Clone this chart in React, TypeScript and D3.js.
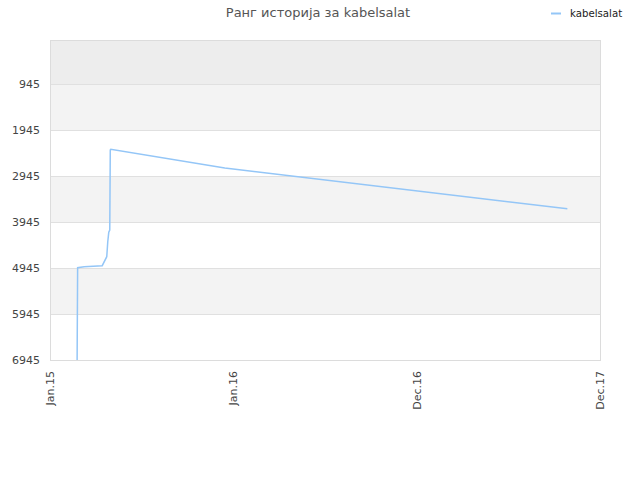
import * as d3 from "d3";
import { useRef, useEffect } from "react";

const dates = [
  "2015-02-24", "2015-02-25", "2015-03-10", "2015-04-15", "2015-04-24",
  "2015-04-26", "2015-04-28", "2015-04-30", "2015-05-01", "2015-05-02",
  "2015-12-15", "2017-10-27",
];
const ranks = [6945, 4938, 4917, 4895, 4699, 4373, 4169, 4119, 2380, 2365, 2771, 3656];
const xTickDates = ["2015-01-01", "2016-01-01", "2016-12-31", "2017-12-31"];
const yTicks = [945, 1945, 2945, 3945, 4945, 5945, 6945];
const seriesName = "kabelsalat";
const title = "Ранг историја за kabelsalat";

export default function App() {
  const ref = useRef<SVGSVGElement>(null);
  const width = 640;
  const height = 480;
  const m = { top: 40, right: 40, bottom: 120, left: 50 };

  useEffect(() => {
    const svg = d3.select(ref.current);
    svg.selectAll("*").remove();
    const parse = d3.timeParse("%Y-%m-%d");
    const data = dates.map((d, i) => ({ date: parse(d) as Date, rank: ranks[i] }));

    const x = d3
      .scaleTime()
      .domain([parse("2015-01-01") as Date, parse("2017-12-31") as Date])
      .range([m.left, width - m.right]);
    const y = d3.scaleLinear().domain([-12, 6945]).range([m.top, height - m.bottom]);

    const font = "'DejaVu Sans', sans-serif";

    // bands
    const bounds = [-12, ...yTicks];
    const bandFill = ["#ededed", "#f3f3f3", "#ffffff", "#f3f3f3", "#ffffff", "#f3f3f3", "#ffffff"];
    svg
      .append("g")
      .selectAll("rect")
      .data(bounds.slice(0, -1))
      .join("rect")
      .attr("x", m.left)
      .attr("width", width - m.left - m.right)
      .attr("y", (d) => y(d))
      .attr("height", (d, i) => y(bounds[i + 1]) - y(d))
      .attr("fill", (d, i) => bandFill[i]);

    // grid lines
    svg
      .append("g")
      .selectAll("line")
      .data(yTicks)
      .join("line")
      .attr("x1", m.left)
      .attr("x2", width - m.right)
      .attr("y1", (d) => y(d) + 0.5)
      .attr("y2", (d) => y(d) + 0.5)
      .attr("stroke", "#e0e0e0");

    // frame
    svg
      .append("rect")
      .attr("x", m.left + 0.5)
      .attr("y", m.top + 0.5)
      .attr("width", width - m.left - m.right)
      .attr("height", height - m.top - m.bottom)
      .attr("fill", "none")
      .attr("stroke", "#dcdcdc");

    // y labels
    svg
      .append("g")
      .selectAll("text")
      .data(yTicks)
      .join("text")
      .attr("x", m.left - 10)
      .attr("y", (d) => y(d) + 4)
      .attr("text-anchor", "end")
      .attr("font-family", font)
      .attr("font-size", 11)
      .attr("fill", "#444")
      .text((d) => d);

    // x labels
    const fmt = d3.timeFormat("%b.%y");
    svg
      .append("g")
      .selectAll("text")
      .data(xTickDates.map((d) => parse(d) as Date))
      .join("text")
      .attr("transform", (d) => `translate(${x(d) + 4},${height - m.bottom + 11}) rotate(-90)`)
      .attr("text-anchor", "end")
      .attr("font-family", font)
      .attr("font-size", 11)
      .attr("fill", "#444")
      .text((d) => fmt(d));

    // line
    svg
      .append("defs")
      .append("clipPath")
      .attr("id", "plot-clip")
      .append("rect")
      .attr("x", m.left)
      .attr("y", m.top)
      .attr("width", width - m.left - m.right)
      .attr("height", height - m.top - m.bottom);

    const line = d3
      .line<{ date: Date; rank: number }>()
      .x((d) => x(d.date))
      .y((d) => y(d.rank));

    svg
      .append("path")
      .datum(data)
      .attr("clip-path", "url(#plot-clip)")
      .attr("d", line)
      .attr("fill", "none")
      .attr("stroke", "#94c6f7")
      .attr("stroke-width", 1.5);

    // title
    svg
      .append("text")
      .attr("x", 318)
      .attr("y", 17)
      .attr("text-anchor", "middle")
      .attr("font-family", font)
      .attr("font-size", 13)
      .attr("fill", "#555")
      .text(title);

    // legend
    svg
      .append("line")
      .attr("x1", 551)
      .attr("x2", 561)
      .attr("y1", 13.5)
      .attr("y2", 13.5)
      .attr("stroke", "#94c6f7")
      .attr("stroke-width", 2);
    svg
      .append("text")
      .attr("x", 570)
      .attr("y", 17)
      .attr("font-family", font)
      .attr("font-size", 10.2)
      .attr("fill", "#222")
      .text(seriesName);
  }, []);

  return (
    <svg
      ref={ref}
      width={width}
      height={height}
      style={{ position: "absolute", left: 0, top: 0, background: "#fff" }}
    />
  );
}
